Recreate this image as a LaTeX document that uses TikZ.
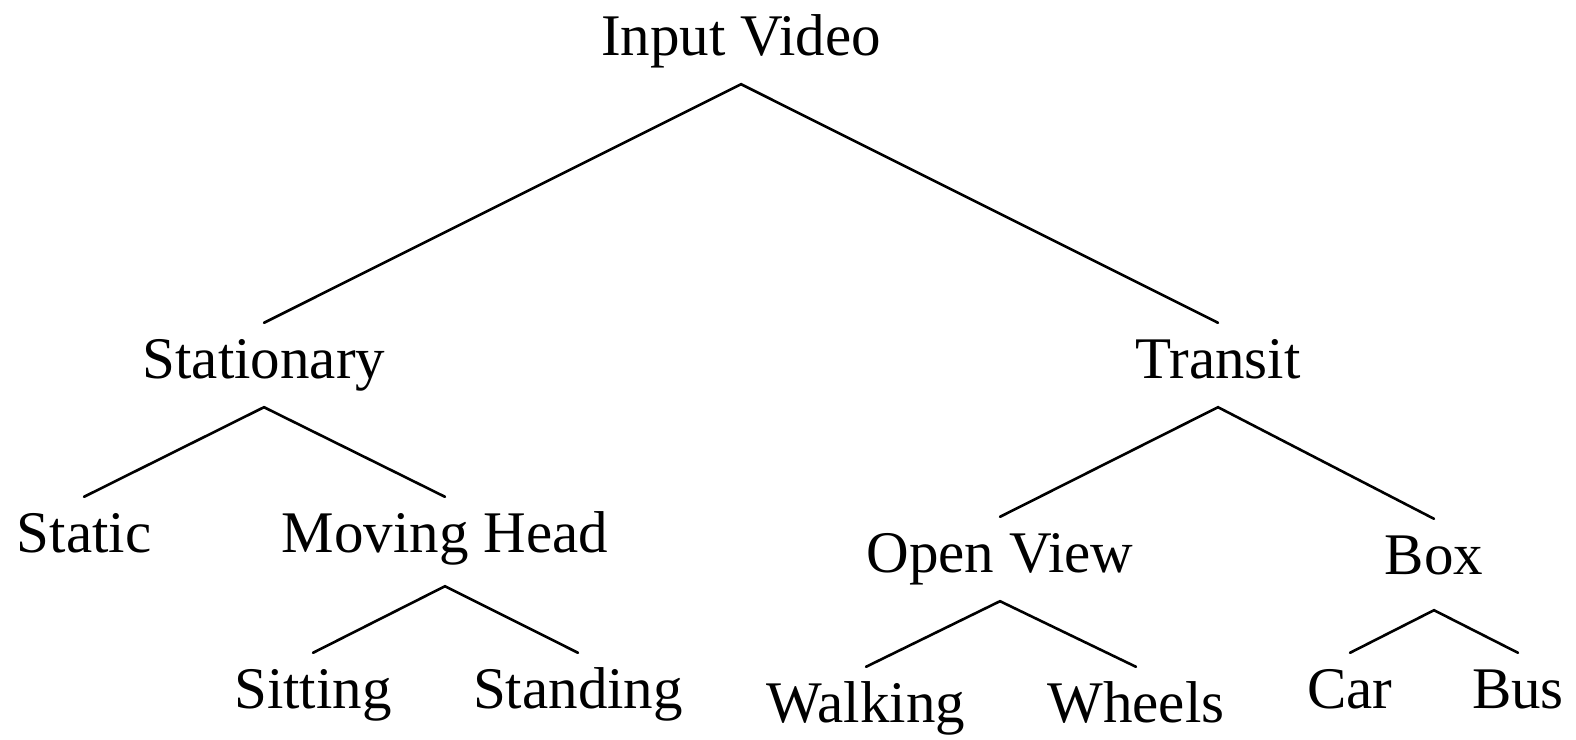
\documentclass[tikz,border=0pt]{standalone}
\usepackage{fontspec}
\setmainfont{Liberation Serif}
\begin{document}
\begin{tikzpicture}[x=1pt,y=-1pt,
  lbl/.style={anchor=base,inner xsep=0pt,inner ysep=14pt,text height=41pt,text depth=15pt,
    font=\fontsize{59}{70}\selectfont},
  edge/.style={line width=2.6pt,line cap=round}]
\useasboundingbox (0,0) rectangle (1576,739);
\node[lbl] (iv) at (741,55) {Input Video};
\node[lbl] (st) at (264,378) {Stationary};
\node[lbl] (tr) at (1218,378) {Transit};
\node[lbl] (sc) at (84,552) {Static};
\node[lbl] (mh) at (445,552) {Moving Head};
\node[lbl] (si) at (313,708) {Sitting};
\node[lbl] (sd) at (578,708) {Standing};
\node[lbl] (ov) at (1000,572) {Open View};
\node[lbl] (bx) at (1434,574) {Box};
\node[lbl] (wa) at (866,722) {Walking};
\node[lbl] (wh) at (1136,722) {Wheels};
\node[lbl] (ca) at (1350,708) {Car};
\node[lbl] (bu) at (1518,708) {Bus};
\draw[edge] (st.north) -- (iv.south) -- (tr.north);
\draw[edge] (sc.north) -- (st.south) -- (mh.north);
\draw[edge] (si.north) -- ([yshift=-5pt]mh.south) -- (sd.north);
\draw[edge] (ov.north) -- (tr.south) -- (bx.north);
\draw[edge] (wa.north) -- (ov.south) -- (wh.north);
\draw[edge] (ca.north) -- ([yshift=-7pt]bx.south) -- (bu.north);
\end{tikzpicture}
\end{document}
